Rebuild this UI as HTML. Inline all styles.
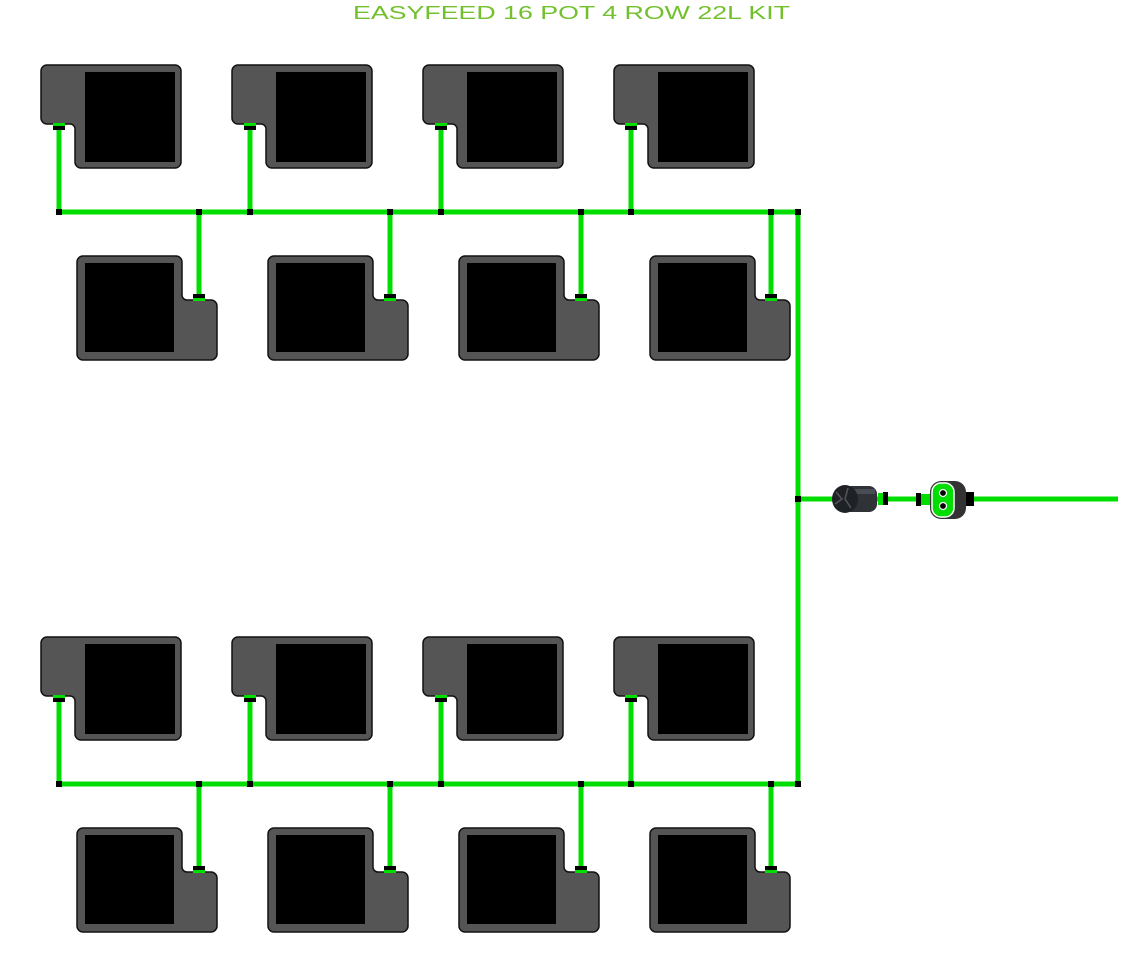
<!DOCTYPE html>
<html><head><meta charset="utf-8"><style>
html,body{margin:0;padding:0;background:#fff;}
svg{display:block;}
</style></head><body>
<svg width="1143" height="975" viewBox="0 0 1143 975" xmlns="http://www.w3.org/2000/svg">
<defs>
  <g id="potA">
    <path d="M6,0 H134 a6,6 0 0 1 6,6 V97 a6,6 0 0 1 -6,6 H40 a6,6 0 0 1 -6,-6 V64 a5,5 0 0 0 -5,-5 H6 a6,6 0 0 1 -6,-6 V6 a6,6 0 0 1 6,-6 Z" fill="#555" stroke="#111" stroke-width="1.5"/>
    <rect x="44" y="7" width="90" height="90" fill="#000"/>
  </g>
  <g id="potB">
    <path d="M6,0 H99 a6,6 0 0 1 6,6 V39 a5,5 0 0 0 5,5 H134 a6,6 0 0 1 6,6 V98 a6,6 0 0 1 -6,6 H6 a6,6 0 0 1 -6,-6 V6 a6,6 0 0 1 6,-6 Z" fill="#555" stroke="#111" stroke-width="1.5"/>
    <rect x="8" y="7" width="89" height="89" fill="#000"/>
  </g>
  <g id="unit">
    <!-- tubes -->
    <g stroke="#00dd00" stroke-width="5" fill="none">
      <line x1="59" y1="126" x2="59" y2="212"/>
      <line x1="250" y1="126" x2="250" y2="212"/>
      <line x1="441" y1="126" x2="441" y2="212"/>
      <line x1="631" y1="126" x2="631" y2="212"/>
      <line x1="199" y1="212" x2="199" y2="298"/>
      <line x1="390" y1="212" x2="390" y2="298"/>
      <line x1="581" y1="212" x2="581" y2="298"/>
      <line x1="771" y1="212" x2="771" y2="298"/>
      <line x1="57" y1="212" x2="801" y2="212"/>
    </g>
    <use href="#potA" x="41" y="65"/><use href="#potA" x="232" y="65"/><use href="#potA" x="423" y="65"/><use href="#potA" x="614" y="65"/>
    <use href="#potB" x="77" y="256"/><use href="#potB" x="268" y="256"/><use href="#potB" x="459" y="256"/><use href="#potB" x="650" y="256"/>
    <!-- connectors -->
    <g fill="#00dd00">
      <rect x="53" y="123" width="12" height="3"/><rect x="244" y="123" width="12" height="3"/><rect x="435" y="123" width="12" height="3"/><rect x="625" y="123" width="12" height="3"/>
      <rect x="193" y="298" width="12" height="3"/><rect x="384" y="298" width="12" height="3"/><rect x="575" y="298" width="12" height="3"/><rect x="765" y="298" width="12" height="3"/>
    </g>
    <g fill="#000">
      <rect x="53" y="126" width="12" height="4"/><rect x="244" y="126" width="12" height="4"/><rect x="435" y="126" width="12" height="4"/><rect x="625" y="126" width="12" height="4"/>
      <rect x="193" y="294" width="12" height="4"/><rect x="384" y="294" width="12" height="4"/><rect x="575" y="294" width="12" height="4"/><rect x="765" y="294" width="12" height="4"/>
      <rect x="56" y="209" width="6" height="6"/><rect x="196" y="209" width="6" height="6"/><rect x="247" y="209" width="6" height="6"/><rect x="387" y="209" width="6" height="6"/>
      <rect x="438" y="209" width="6" height="6"/><rect x="578" y="209" width="6" height="6"/><rect x="628" y="209" width="6" height="6"/><rect x="768" y="209" width="6" height="6"/>
      <rect x="795" y="209" width="6" height="6"/>
    </g>
  </g>
</defs>
<text x="353" y="19" font-family="Liberation Sans, sans-serif" font-size="18" fill="#72c02c" textLength="437" lengthAdjust="spacingAndGlyphs">EASYFEED 16 POT 4 ROW 22L KIT</text>

<g stroke="#00dd00" stroke-width="5" fill="none">
  <line x1="798" y1="210" x2="798" y2="787"/>
  <line x1="798" y1="499" x2="1118" y2="499"/>
</g>
<use href="#unit"/>
<use href="#unit" y="572"/>
<rect x="795" y="496" width="6" height="6" fill="#000"/>

<!-- pump -->
<g>
  <rect x="843" y="486" width="34" height="26" rx="8" fill="#2f3338"/>
  <rect x="845" y="489" width="30" height="5" fill="#5a6068" opacity="0.6"/>
  <ellipse cx="845" cy="499" rx="13" ry="14" fill="#1e2226"/>
  <path d="M836,492 l6,7 -7,5 M848,488 l-3,11 6,9" stroke="#555" stroke-width="1.5" fill="none"/>
  <rect x="878" y="493" width="6" height="12" fill="#00dd00"/>
  <rect x="883" y="492" width="5" height="13" fill="#000"/>
</g>
<!-- timer -->
<g>
  <rect x="916" y="493" width="5" height="13" fill="#000"/>
  <rect x="921" y="494" width="10" height="11" fill="#00dd00"/>
  <rect x="930" y="481" width="36" height="38" rx="11" fill="#333"/>
  <rect x="932" y="483" width="22" height="34" rx="9" fill="#00dd00" stroke="#fff" stroke-width="1.5"/>
  <circle cx="943" cy="493" r="3.5" fill="#000" stroke="#fff" stroke-width="1.2"/>
  <circle cx="943" cy="506" r="3.5" fill="#000" stroke="#fff" stroke-width="1.2"/>
  <rect x="966" y="492" width="8" height="14" fill="#000"/>
</g>
</svg>
</body></html>
